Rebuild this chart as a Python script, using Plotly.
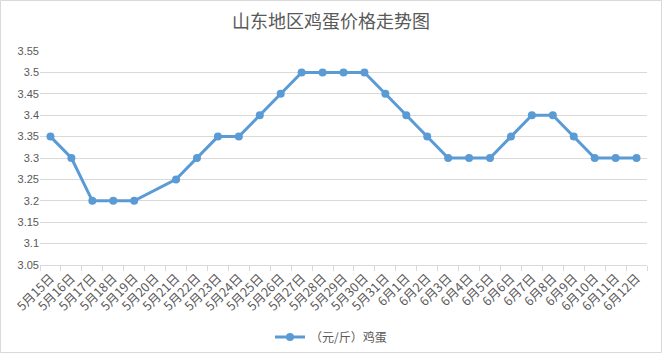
import plotly.graph_objects as go

dates = ["5月15日", "5月16日", "5月17日", "5月18日", "5月19日", "5月20日", "5月21日",
         "5月22日", "5月23日", "5月24日", "5月25日", "5月26日", "5月27日", "5月28日",
         "5月29日", "5月30日", "5月31日", "6月1日", "6月2日", "6月3日", "6月4日",
         "6月5日", "6月6日", "6月7日", "6月8日", "6月9日", "6月10日", "6月11日", "6月12日"]
prices = [3.35, 3.3, 3.2, 3.2, 3.2, None, 3.25,
          3.3, 3.35, 3.35, 3.4, 3.45, 3.5, 3.5,
          3.5, 3.5, 3.45, 3.4, 3.35, 3.3, 3.3,
          3.3, 3.35, 3.4, 3.4, 3.35, 3.3, 3.3, 3.3]
y_ticks = [3.05, 3.1, 3.15, 3.2, 3.25, 3.3, 3.35, 3.4, 3.45, 3.5, 3.55]

FONT = "Liberation Sans, Noto Sans CJK SC, sans-serif"
CJK = "Noto Sans CJK SC, sans-serif"
GRAY = "#595959"
W, H = 662, 355
ML, MR, MT, MB = 40, 15, 51, 90

fig = go.Figure()
fig.add_trace(go.Scatter(
    x=dates, y=prices, mode="lines+markers", connectgaps=True,
    name="（元/斤）鸡蛋",
    line=dict(color="#5b9bd5", width=3),
    marker=dict(color="#5b9bd5", size=8),
))

pw = W - ML - MR
ph = H - MT - MB
fig.add_shape(type="rect", xref="paper", yref="paper",
              x0=-(ML - 0.5) / pw, x1=(W - ML - 0.5) / pw,
              y0=-(MB - 2.5) / ph, y1=(H - MB - 0.5) / ph,
              line=dict(color="#d9d9d9", width=1), layer="below")

fig.update_layout(
    width=W, height=H,
    margin=dict(l=ML, r=MR, t=MT, b=MB, autoexpand=False),
    paper_bgcolor="white", plot_bgcolor="white",
    title=dict(text="山东地区鸡蛋价格走势图", x=0.5, xanchor="center",
               xref="container",
               y=1 - 22 / H, yanchor="middle", yref="container",
               font=dict(family=CJK, size=18, color=GRAY)),
    font=dict(family=FONT, size=11, color=GRAY),
    showlegend=True,
    legend=dict(orientation="h", x=0.5, xanchor="center", xref="container",
                y=1 - 337 / H, yref="container",
                yanchor="middle", font=dict(family=CJK, size=12, color=GRAY)),
    xaxis=dict(type="category", tickangle=-45, tickson="boundaries",
               ticks="outside", ticklen=5, tickcolor="#d9d9d9",
               showline=True, linecolor="#d9d9d9", linewidth=1,
               showgrid=False, automargin=False,
               tickfont=dict(family=CJK, size=12.5, color=GRAY),
               range=[-0.5, len(dates) - 0.5]),
    yaxis=dict(range=[3.05, 3.55], tickvals=y_ticks,
               ticktext=[f"{v:g}" for v in y_ticks],
               showgrid=True, gridcolor="#d9d9d9", gridwidth=1,
               zeroline=False, showline=False, ticks="", automargin=False,
               tickfont=dict(family=FONT, size=11, color=GRAY)),
)

fig.write_html("out.html", config={"displayModeBar": False},
               post_script="document.body.style.margin='0';document.body.style.overflow='hidden';")
